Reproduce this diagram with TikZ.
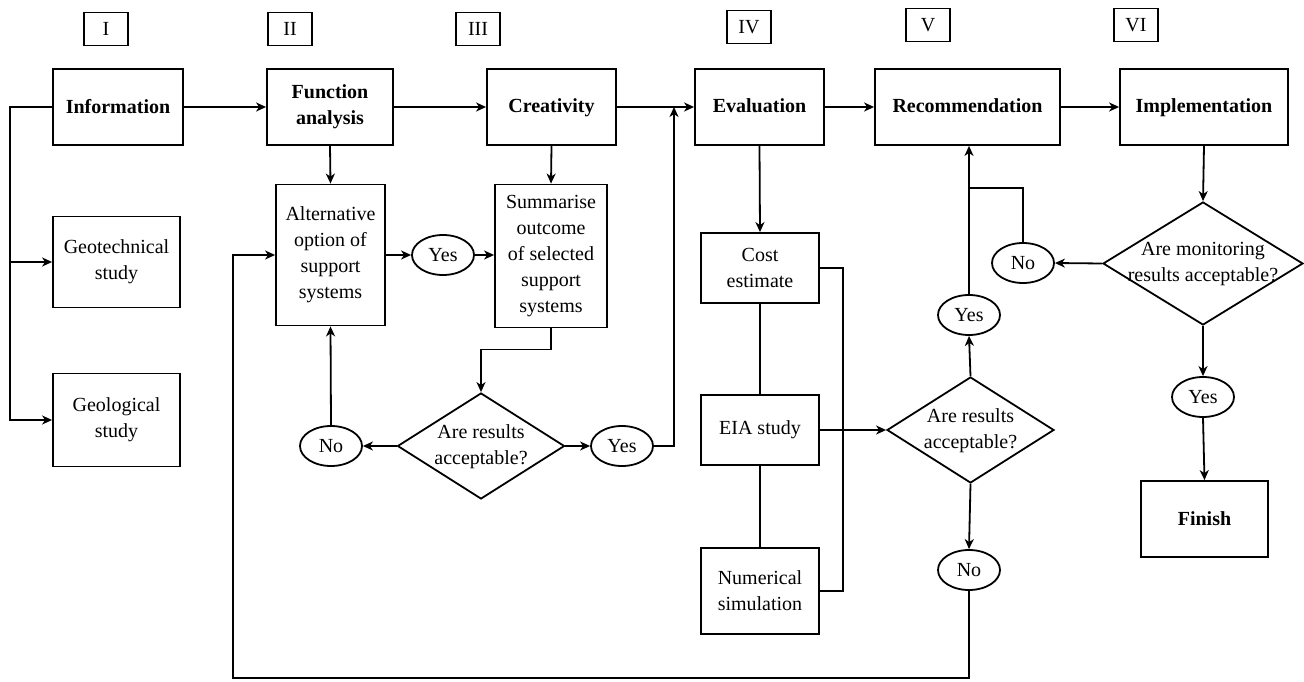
\documentclass[tikz,border=0pt]{standalone}
\usepackage{fontspec}
\setmainfont{Liberation Serif}
\usetikzlibrary{arrows.meta,shapes.geometric}
\newcommand{\dtext}[1]{\smash{\makebox[0pt]{\raisebox{-5pt}{\begin{tabular}{@{}c@{}}#1\end{tabular}}}}}
\begin{document}
\begin{tikzpicture}[x=1pt, y=-1pt, >={Stealth[length=10pt,width=9pt,inset=3pt]}, line width=1.8pt,
    every node/.style={font=\fontsize{20}{26}\selectfont},
    numbox/.style={draw, minimum width=44pt, minimum height=33pt, inner sep=0pt},
    stage/.style={draw, font=\fontsize{20}{26}\selectfont\bfseries, align=center, minimum height=76pt, inner sep=2pt},
    task/.style={draw, align=center, inner sep=2pt},
    answer/.style={draw, ellipse, minimum width=62pt, minimum height=40pt, inner sep=0pt},
    decision/.style={draw, diamond, inner sep=0pt}]
    \useasboundingbox (0,0) rectangle (1304,682);

    \node[numbox] (nI) at (106,29) {I};
    \node[numbox] (nII) at (290,29) {II};
    \node[numbox] (nIII) at (478,29) {III};
    \node[numbox] (nIV) at (749,27) {IV};
    \node[numbox] (nV) at (928,25) {V};
    \node[numbox] (nVI) at (1136,25) {VI};

    \node[stage, minimum width=130pt] (info) at (118,107) {Information};
    \node[stage, minimum width=126pt] (func) at (330,107) {Function\\analysis};
    \node[stage, minimum width=129pt] (crea) at (551.5,107) {\strut Creativity};
    \node[stage, minimum width=129pt] (eval) at (759.5,107) {\strut Evaluation};
    \node[stage, minimum width=185pt] (rec) at (967.5,107) {\strut Recommendation};
    \node[stage, minimum width=168pt] (impl) at (1204,107) {\strut Implementation};
    \node[stage, minimum width=127pt] (fin) at (1204.5,519) {Finish};

    \node[task, minimum width=127pt, minimum height=91pt] (geotech) at (116.5,262) {Geotechnical\\study};
    \node[task, minimum width=127pt, minimum height=93pt] (geolog) at (116.5,420) {Geological\\study};
    \node[task, minimum width=109pt, minimum height=141pt] (alt) at (330.5,255) {Alternative\\option of\\support\\systems};
    \node[task, minimum width=112pt, minimum height=143pt] (summ) at (551,256) {Summarise\\outcome\\of selected\\support\\systems};
    \node[task, minimum width=118pt, minimum height=70pt] (cost) at (760,268) {Cost\\estimate};
    \node[task, minimum width=118pt, minimum height=70pt] (eia) at (760,430) {EIA study};
    \node[task, minimum width=118pt, minimum height=86pt] (num) at (760,591) {Numerical\\simulation};

    \node[answer] (yesA) at (443,255) {Yes};
    \node[answer] (noB) at (331,446) {No};
    \node[answer] (yesB) at (622,446) {Yes};
    \node[answer] (yesC) at (969,315) {Yes};
    \node[answer] (noC) at (969,570) {No};
    \node[answer] (noD) at (1023,263) {No};
    \node[answer] (yesD) at (1203,397) {Yes};

    \node[decision, minimum width=167pt, minimum height=106pt] (dec1) at (481,446) {\dtext{Are results\\acceptable?}};
    \node[decision, minimum width=167pt, minimum height=106pt] (dec2) at (970.5,430) {\dtext{Are results\\acceptable?}};
    \node[decision, minimum width=200pt, minimum height=123pt] (dec3) at (1203,263.5) {\dtext{Are monitoring\\results acceptable?}};

    \coordinate (bl) at (10,420);
    \coordinate (j1) at (674,107);
    \coordinate (j2) at (969,188);
    \coordinate (b1) at (233,678);

    \draw[->] (info.west) -| (bl) -- (geolog.west);
    \draw[->] (geotech.west -| bl) -- (geotech.west);
    \draw[->] (info.east) -- (func.west);
    \draw[->] (func.east) -- (crea.west);
    \draw[->] (crea.east) -- (eval.west);
    \draw[->] (eval.east) -- (rec.west);
    \draw[->] (rec.east) -- (impl.west);

    \draw[->] (func.south) -- (alt.north);
    \draw[->] (crea.south) -- (summ.north);
    \draw[->] (alt.east) -- (yesA.west);
    \draw[->] (yesA.east) -- (yesA.east -| summ.west);
    \draw[->] (summ.south) -- ++(0,21) -| (dec1.north);
    \draw[->] (dec1.west) -- (noB.east);
    \draw[->] (dec1.east) -- (yesB.west);
    \draw[->] (noB.north) -- (alt.south);
    \draw[->] (yesB.east) -| (j1);

    \draw[->] (eval.south) -- (cost.north);
    \draw (cost.south) -- (eia.north);
    \draw (eia.south) -- (num.north);
    \draw (cost.east) -- ++(23,0) |- (num.east);
    \draw[->] (eia.east) -- (dec2.west);
    \draw[->] (dec2.north) -- (yesC.south);
    \draw[->] (yesC.north) -- (yesC.north |- rec.south);
    \draw[->] (dec2.south) -- (noC.north);
    \draw[->] (noC.south) |- (b1) |- (alt.west);

    \draw[->] (impl.south) -- (dec3.north);
    \draw[->] (dec3.west) -- (noD.east);
    \draw (noD.north) |- (j2);
    \draw[->] (dec3.south) -- (yesD.north);
    \draw[->] (yesD.south) -- (fin.north);
\end{tikzpicture}
\end{document}
